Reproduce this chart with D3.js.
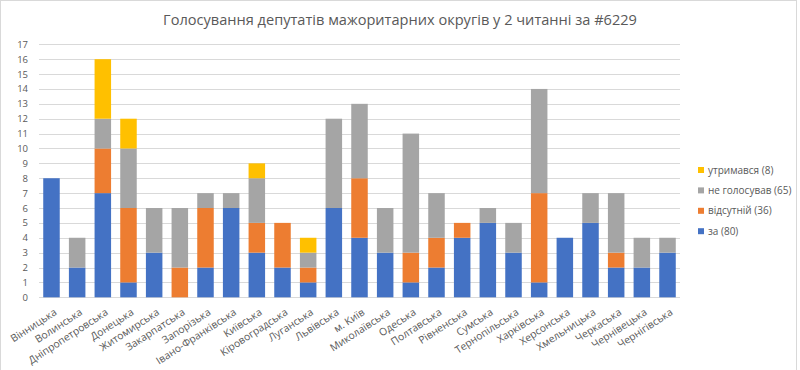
<!DOCTYPE html>
<html>
<head>
<meta charset="utf-8">
<script src="https://cdn.jsdelivr.net/npm/d3@7"></script>
<style>
  html, body { margin: 0; padding: 0; background: #fff; }
  svg { display: block; }
  text { font-family: "Open Sans", "Noto Sans", sans-serif; fill: #595959; }
</style>
</head>
<body>
<svg id="chart" width="800" height="370"></svg>
<script>
const title = "Голосування депутатів мажоритарних округів у 2 читанні за #6229";
const categories = ["Вінницька","Волинська","Дніпропетровська","Донецька","Житомирська","Закарпатська","Запорізька","Івано-Франківська","Київська","Кіровоградська","Луганська","Львівська","м. Київ","Миколаївська","Одеська","Полтавська","Рівненська","Сумська","Тернопільська","Харківська","Херсонська","Хмельницька","Черкаська","Чернівецька","Чернігівська"];
const za        = [8,2,7,1,3,0,2,6,3,2,1,6,4,3,1,2,4,5,3,1,4,5,2,2,3];
const vidsutnii = [0,0,3,5,0,2,4,0,2,3,1,0,4,0,2,2,1,0,0,6,0,0,1,0,0];
const neHolos   = [0,2,2,4,3,4,1,1,3,0,1,6,5,3,8,3,0,1,2,7,0,2,4,2,1];
const utrym     = [0,0,4,2,0,0,0,0,1,0,1,0,0,0,0,0,0,0,0,0,0,0,0,0,0];
const seriesKeys = ["za","vidsutnii","neHolos","utrym"];
const seriesNames = ["за (80)","відсутній (36)","не голосував (65)","утримався (8)"];
const seriesColors = ["#4472C4","#ED7D31","#A5A5A5","#FFC000"];
const yTicks = d3.range(0, 18, 1);

const table = categories.map((c, i) => ({cat: c, za: za[i], vidsutnii: vidsutnii[i], neHolos: neHolos[i], utrym: utrym[i]}));
const stacked = d3.stack().keys(seriesKeys)(table);

const svg = d3.select("#chart");

// outer border
svg.append("rect").attr("x", 0.5).attr("y", 0.5).attr("width", 796).attr("height", 400)
  .attr("fill", "none").attr("stroke", "#d9d9d9").attr("stroke-width", 1);

const x = d3.scaleBand().domain(categories).range([39, 680]).paddingInner(0.357).paddingOuter(0.165);
const y = d3.scaleLinear().domain([0, 17]).range([297.3, 44.3]);

// gridlines
svg.append("g").selectAll("line").data(yTicks).join("line")
  .attr("x1", 39).attr("x2", 680)
  .attr("y1", d => Math.round(y(d)) + 0.5).attr("y2", d => Math.round(y(d)) + 0.5)
  .attr("stroke", "#d9d9d9").attr("stroke-width", 1);

// y axis labels
const yAxis = d3.axisLeft(y).tickValues(yTicks).tickSize(0).tickPadding(0);
const gy = svg.append("g").attr("transform", "translate(28,0)").call(yAxis);
gy.select(".domain").remove();
gy.selectAll("text").attr("font-size", "9.5px").attr("fill", "#595959")
  .attr("font-family", "'Open Sans', sans-serif");

// bars
svg.append("g").selectAll("g").data(stacked).join("g")
  .attr("fill", (d, i) => seriesColors[i])
  .selectAll("rect").data(d => d).join("rect")
  .attr("x", d => x(d.data.cat))
  .attr("width", x.bandwidth())
  .attr("y", d => y(d[1]))
  .attr("height", d => y(d[0]) - y(d[1]));

// x axis labels
const xAxis = d3.axisBottom(x).tickSize(0).tickPadding(0);
const gx = svg.append("g").attr("transform", "translate(0,297)").call(xAxis);
gx.select(".domain").remove();
gx.selectAll("text")
  .attr("font-size", "10.3px").attr("fill", "#595959")
  .attr("font-family", "'Open Sans', sans-serif")
  .attr("text-anchor", "end")
  .attr("dy", null).attr("y", 0)
  .attr("transform", "translate(6,17) rotate(-33)");

// title
const t = svg.append("text").attr("x", 400).attr("y", 25).attr("text-anchor", "middle")
  .attr("font-size", "15px").attr("fill", "#595959").text(title);
const tw = t.node().getComputedTextLength();
t.attr("font-size", (15 * 474 / tw).toFixed(2) + "px");

// legend
const legendOrder = [3, 2, 1, 0];
const lg = svg.append("g");
legendOrder.forEach((si, k) => {
  const cy = 170 + k * 20.4;
  lg.append("rect").attr("x", 698).attr("y", cy - 3).attr("width", 6).attr("height", 6).attr("fill", seriesColors[si]);
  lg.append("text").attr("x", 708).attr("y", cy).attr("dy", "0.35em")
    .attr("font-size", "10px").attr("fill", "#595959").text(seriesNames[si]);
});
</script>
</body>
</html>
